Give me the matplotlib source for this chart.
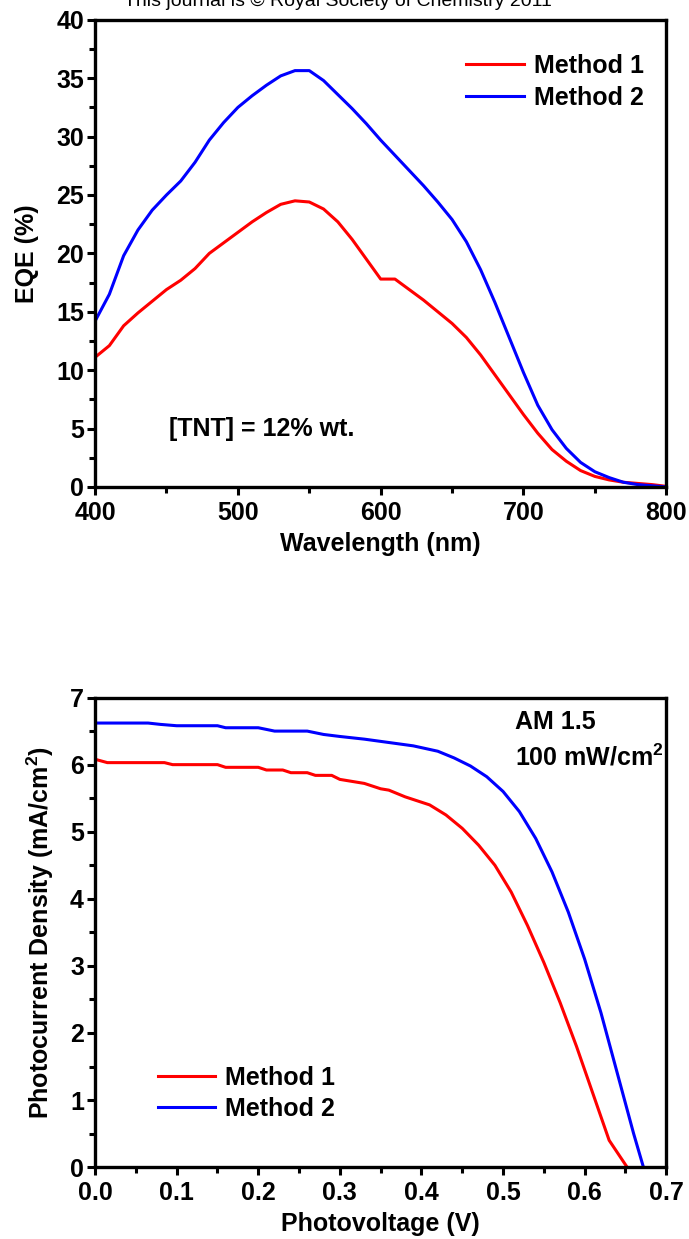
import matplotlib
matplotlib.use("Agg")
import matplotlib.pyplot as plt
from matplotlib.ticker import MultipleLocator

plt.rcParams["font.family"] = ["Liberation Sans", "DejaVu Sans"]
plt.rcParams["font.weight"] = "bold"
plt.rcParams["mathtext.fontset"] = "custom"
plt.rcParams["mathtext.bf"] = "Liberation Sans:bold"

# ── EQE data ────────────────────────────────────────────────────────────
wavelength = [400, 410, 420, 430, 440, 450, 460, 470, 480, 490, 500, 510, 520,
              530, 540, 550, 560, 570, 580, 590, 600, 610, 620, 630, 640, 650,
              660, 670, 680, 690, 700, 710, 720, 730, 740, 750, 760, 770, 780,
              790, 800]
eqe_m1 = [11.1, 12.1, 13.8, 14.9, 15.9, 16.9, 17.7, 18.7, 20.0, 20.9, 21.8, 22.7,
          23.5, 24.2, 24.5, 24.4, 23.8, 22.7, 21.2, 19.5, 17.8, 17.8, 16.9, 16.0,
          15.0, 14.0, 12.8, 11.3, 9.6, 7.9, 6.2, 4.6, 3.2, 2.2, 1.4, 0.9, 0.6,
          0.4, 0.3, 0.2, 0.05]
eqe_m2 = [14.2, 16.5, 19.8, 22.0, 23.7, 25.0, 26.2, 27.8, 29.7, 31.2, 32.5, 33.5,
          34.4, 35.2, 35.65, 35.65, 34.8, 33.6, 32.4, 31.1, 29.7, 28.4, 27.1,
          25.8, 24.4, 22.9, 21.0, 18.6, 15.8, 12.8, 9.8, 7.0, 4.9, 3.3, 2.1,
          1.3, 0.8, 0.4, 0.2, 0.1, 0.0]

# ── J-V data ────────────────────────────────────────────────────────────
volt_m1 = [0.0, 0.015, 0.085, 0.095, 0.15, 0.16, 0.2, 0.21, 0.23, 0.24, 0.26,
           0.27, 0.29, 0.30, 0.33, 0.35, 0.36, 0.38, 0.41, 0.43, 0.45, 0.47,
           0.49, 0.51, 0.53, 0.55, 0.57, 0.59, 0.61, 0.63, 0.652]
jsc_m1 = [6.08, 6.03, 6.03, 6.0, 6.0, 5.96, 5.96, 5.92, 5.92, 5.88, 5.88, 5.84,
          5.84, 5.78, 5.72, 5.64, 5.62, 5.52, 5.4, 5.25, 5.05, 4.8, 4.5, 4.1,
          3.6, 3.05, 2.45, 1.8, 1.1, 0.4, 0.0]
volt_m2 = [0.0, 0.065, 0.08, 0.1, 0.15, 0.16, 0.2, 0.22, 0.26, 0.28, 0.3, 0.33,
           0.36, 0.39, 0.42, 0.44, 0.46, 0.48, 0.5, 0.52, 0.54, 0.56, 0.58, 0.6,
           0.62, 0.64, 0.66, 0.672]
jsc_m2 = [6.62, 6.62, 6.6, 6.58, 6.58, 6.55, 6.55, 6.5, 6.5, 6.45, 6.42, 6.38,
          6.33, 6.28, 6.2, 6.1, 5.98, 5.82, 5.6, 5.3, 4.9, 4.4, 3.8, 3.1, 2.3,
          1.4, 0.5, 0.0]

RED = "#ff0000"
BLUE = "#0000ff"
FS = 18


def _estilo(ax):
    for s in ax.spines.values():
        s.set_linewidth(2.4)
    ax.tick_params(which="major", direction="out", length=6, width=2.2,
                   labelsize=FS)
    ax.tick_params(which="minor", direction="out", length=4, width=2.2)
    ax.tick_params(axis="x", which="major", pad=4)
    ax.tick_params(axis="y", which="major", pad=2)
    for lab in ax.get_xticklabels() + ax.get_yticklabels():
        lab.set_fontweight("bold")


fig = plt.figure(figsize=(6.89, 12.39), dpi=100)

fig.text(0.49, 1.006, "This journal is \u00a9 Royal Society of Chemistry 2011",
         ha="center", va="top", fontsize=14, fontweight="normal")

# ── Painel superior: EQE ───────────────────────────────────────────────
ax1 = fig.add_axes([0.138, 0.607, 0.829, 0.377])
ax1.plot(wavelength, eqe_m1, color=RED, lw=2.2, label="Method 1")
ax1.plot(wavelength, eqe_m2, color=BLUE, lw=2.2, label="Method 2")
ax1.set_xlim(400, 800)
ax1.set_ylim(0, 40)
ax1.xaxis.set_major_locator(MultipleLocator(100))
ax1.xaxis.set_minor_locator(MultipleLocator(50))
ax1.yaxis.set_major_locator(MultipleLocator(5))
ax1.yaxis.set_minor_locator(MultipleLocator(2.5))
ax1.set_xlabel("Wavelength (nm)", fontsize=FS, fontweight="bold", labelpad=5)
ax1.set_ylabel("EQE (%)", fontsize=FS, fontweight="bold", labelpad=12)
ax1.text(0.13, 0.125, "[TNT] = 12% wt.", transform=ax1.transAxes,
         fontsize=FS, fontweight="bold", va="center")
ax1.legend(loc="upper right", bbox_to_anchor=(1.0, 0.975), frameon=False,
           handlelength=2.3, handletextpad=0.4, labelspacing=0.3,
           prop={"weight": "bold", "size": FS})
_estilo(ax1)

# ── Painel inferior: J-V ───────────────────────────────────────────────
ax2 = fig.add_axes([0.138, 0.058, 0.829, 0.379])
ax2.plot(volt_m1, jsc_m1, color=RED, lw=2.2, label="Method 1")
ax2.plot(volt_m2, jsc_m2, color=BLUE, lw=2.2, label="Method 2")
ax2.set_xlim(0, 0.7)
ax2.set_ylim(0, 7)
ax2.xaxis.set_major_locator(MultipleLocator(0.1))
ax2.xaxis.set_minor_locator(MultipleLocator(0.05))
ax2.yaxis.set_major_locator(MultipleLocator(1))
ax2.yaxis.set_minor_locator(MultipleLocator(0.5))
ax2.xaxis.set_major_formatter(plt.FormatStrFormatter("%.1f"))
ax2.set_xlabel("Photovoltage (V)", fontsize=FS, fontweight="bold", labelpad=5)
ax2.set_ylabel("Photocurrent Density (mA/cm$^\\mathbf{2}$)", fontsize=FS,
               fontweight="bold", labelpad=10)
ax2.text(0.735, 0.948, "AM 1.5", transform=ax2.transAxes, fontsize=FS,
         fontweight="bold", va="center")
ax2.text(0.735, 0.872, "100 mW/cm$^\\mathbf{2}$", transform=ax2.transAxes,
         fontsize=FS, fontweight="bold", va="center")
ax2.legend(loc="lower left", bbox_to_anchor=(0.07, 0.05), frameon=False,
           handlelength=2.3, handletextpad=0.4, labelspacing=0.3,
           prop={"weight": "bold", "size": FS})
_estilo(ax2)

fig.savefig("out.png", dpi=100)
plt.close(fig)
